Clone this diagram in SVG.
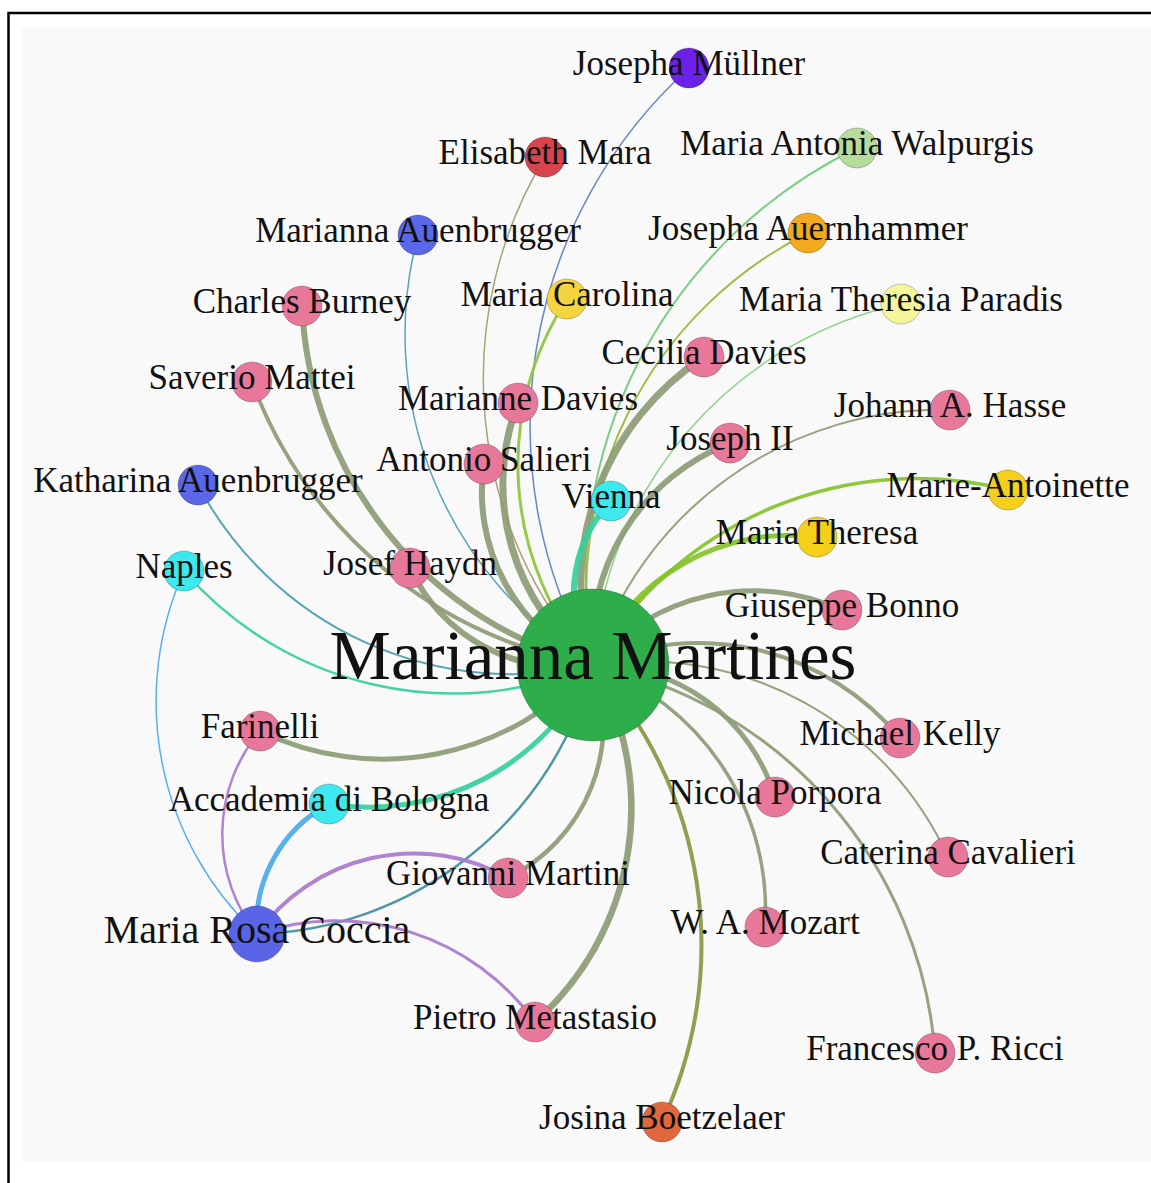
<svg xmlns="http://www.w3.org/2000/svg" width="1151" height="1183" viewBox="0 0 1151 1183">
  <style>
    .lbl { font-family: "Liberation Serif", "Times New Roman", serif; font-size: 35px; fill: #111; text-anchor: middle; }
    .lbl-mid { font-size: 40px; }
    .lbl-big { font-size: 69px; }
    .node { stroke: #000; stroke-opacity: 0.22; stroke-width: 1; }
    .edge { fill: none; stroke-opacity: 0.92; }
    .n-center { fill: #2eae4b; }
    .n-pink { fill: #e8789a; }
    .n-mullner { fill: #6b21e8; }
    .n-mara { fill: #d9434e; }
    .n-walpurgis { fill: #b7db9b; }
    .n-auen { fill: #5a67e6; }
    .n-auernhammer { fill: #f2a91e; }
    .n-carolina { fill: #f4d53f; }
    .n-paradis { fill: #f5f59c; }
    .n-cyan { fill: #3ee8ef; }
    .n-royal { fill: #f6cf1c; }
    .n-coccia { fill: #5a64e6; }
    .n-boetzelaer { fill: #e0683c; }
    .c-pink { stroke: #8d9b75; }
    .c-mullner { stroke: #5b7cc4; }
    .c-mara { stroke: #a39a6c; }
    .c-walpurgis { stroke: #72c97a; }
    .c-auen { stroke: #4a9cb0; }
    .c-auernhammer { stroke: #9cb53a; }
    .c-carolina { stroke: #8fc43c; }
    .c-paradis { stroke: #84d07e; }
    .c-cyan { stroke: #35cf9e; }
    .c-royal { stroke: #86c22a; }
    .c-coccia { stroke: #3f8ea0; }
    .c-boetzelaer { stroke: #8a9644; }
    .c-purple { stroke: #a878cc; }
    .c-blue { stroke: #4ca8ee; }
  </style>

  <!-- frame and canvas -->
  <rect x="8.5" y="13" width="1200" height="1200" fill="#ffffff" stroke="#000" stroke-width="2.5"/>
  <rect x="22" y="28" width="1140" height="1135" fill="#f9f9f9"/>

  <!-- links: circular arcs drawn from source to target -->
  <g id="links">
    <path class="edge c-mullner" stroke-width="1.5" d="M593,665 A483.8,483.8 0 0,1 689,68"/>
    <path class="edge c-mara" stroke-width="1.5" d="M593,665 A428.7,428.7 0 0,1 545,157"/>
    <path class="edge c-walpurgis" stroke-width="2" d="M593,665 A481.8,481.8 0 0,1 857,148"/>
    <path class="edge c-auen" stroke-width="1.5" d="M593,665 A385.3,385.3 0 0,1 418,235"/>
    <path class="edge c-auernhammer" stroke-width="2" d="M593,665 A400.5,400.5 0 0,1 808,233"/>
    <path class="edge c-pink" stroke-width="6" d="M593,665 A388.2,388.2 0 0,1 302,306"/>
    <path class="edge c-carolina" stroke-width="3" d="M593,665 A304.5,304.5 0 0,1 567,299"/>
    <path class="edge c-paradis" stroke-width="1.5" d="M593,665 A393.8,393.8 0 0,1 901,304"/>
    <path class="edge c-pink" stroke-width="7" d="M593,665 A271.7,271.7 0 0,1 704,357"/>
    <path class="edge c-pink" stroke-width="4" d="M593,665 A443.1,443.1 0 0,1 252,382"/>
    <path class="edge c-pink" stroke-width="7" d="M593,665 A226.2,226.2 0 0,1 518,403"/>
    <path class="edge c-pink" stroke-width="2" d="M593,665 A364.1,364.1 0 0,1 950,410"/>
    <path class="edge c-pink" stroke-width="6" d="M593,665 A216.5,216.5 0 0,1 730,443"/>
    <path class="edge c-pink" stroke-width="6" d="M593,665 A189.8,189.8 0 0,1 484,464"/>
    <path class="edge c-auen" stroke-width="2" d="M593,665 A356,356 0 0,1 198,485"/>
    <path class="edge c-cyan" stroke-width="6" d="M593,665 A137,137 0 0,1 611,501"/>
    <path class="edge c-royal" stroke-width="3.5" d="M593,665 A373.8,373.8 0 0,1 1008,490"/>
    <path class="edge c-royal" stroke-width="5" d="M593,665 A214.1,214.1 0 0,1 817,537"/>
    <path class="edge c-cyan" stroke-width="2.5" d="M593,665 A356.7,356.7 0 0,1 184,571"/>
    <path class="edge c-pink" stroke-width="6" d="M593,665 A171.9,171.9 0 0,1 410,568"/>
    <path class="edge c-pink" stroke-width="5" d="M593,665 A211.7,211.7 0 0,1 842,610"/>
    <path class="edge c-pink" stroke-width="4" d="M593,665 A262,262 0 0,1 900,738"/>
    <path class="edge c-pink" stroke-width="5" d="M593,665 A281.8,281.8 0 0,1 260,731"/>
    <path class="edge c-pink" stroke-width="5" d="M593,665 A186.6,186.6 0 0,1 775,797"/>
    <path class="edge c-cyan" stroke-width="5" d="M593,665 A247.7,247.7 0 0,1 329,804"/>
    <path class="edge c-pink" stroke-width="2" d="M593,665 A335,335 0 0,1 948,857"/>
    <path class="edge c-pink" stroke-width="4.5" d="M593,665 A172,172 0 0,1 508,878"/>
    <path class="edge c-coccia" stroke-width="2.5" d="M593,665 A357.2,357.2 0 0,1 257,934"/>
    <path class="edge c-pink" stroke-width="3.5" d="M593,665 A260.1,260.1 0 0,1 765,927"/>
    <path class="edge c-pink" stroke-width="6.5" d="M593,665 A285.7,285.7 0 0,1 535,1022"/>
    <path class="edge c-pink" stroke-width="3" d="M593,665 A429.3,429.3 0 0,1 935,1053"/>
    <path class="edge c-boetzelaer" stroke-width="4" d="M593,665 A416,416 0 0,1 662,1122"/>
    <path class="edge c-blue" stroke-width="5" d="M257,934 A136.7,136.7 0 0,1 329,804"/>
    <path class="edge c-blue" stroke-width="1.5" d="M257,934 A318.5,318.5 0 0,1 184,571"/>
    <path class="edge c-purple" stroke-width="2.5" d="M257,934 A160.4,160.4 0 0,1 260,731"/>
    <path class="edge c-purple" stroke-width="4" d="M257,934 A192.9,192.9 0 0,1 508,878"/>
    <path class="edge c-purple" stroke-width="3" d="M257,934 A244.9,244.9 0 0,1 535,1022"/>
  </g>

  <!-- people and places -->
  <g id="node-josepha-mullner"><circle class="node n-mullner" cx="689" cy="68" r="20"/><text class="lbl" x="689" y="75">Josepha Müllner</text></g>
  <g id="node-elisabeth-mara"><circle class="node n-mara" cx="545" cy="157" r="20"/><text class="lbl" x="545" y="164">Elisabeth Mara</text></g>
  <g id="node-maria-antonia-walpurgis"><circle class="node n-walpurgis" cx="857" cy="148" r="20"/><text class="lbl" x="857" y="155">Maria Antonia Walpurgis</text></g>
  <g id="node-marianna-auenbrugger"><circle class="node n-auen" cx="418" cy="235" r="20"/><text class="lbl" x="418" y="242">Marianna Auenbrugger</text></g>
  <g id="node-josepha-auernhammer"><circle class="node n-auernhammer" cx="808" cy="233" r="20"/><text class="lbl" x="808" y="240">Josepha Auernhammer</text></g>
  <g id="node-charles-burney"><circle class="node n-pink" cx="302" cy="306" r="20"/><text class="lbl" x="302" y="313">Charles Burney</text></g>
  <g id="node-maria-carolina"><circle class="node n-carolina" cx="567" cy="299" r="20"/><text class="lbl" x="567" y="306">Maria Carolina</text></g>
  <g id="node-maria-theresia-paradis"><circle class="node n-paradis" cx="901" cy="304" r="20"/><text class="lbl" x="901" y="311">Maria Theresia Paradis</text></g>
  <g id="node-cecilia-davies"><circle class="node n-pink" cx="704" cy="357" r="20"/><text class="lbl" x="704" y="364">Cecilia Davies</text></g>
  <g id="node-saverio-mattei"><circle class="node n-pink" cx="252" cy="382" r="20"/><text class="lbl" x="252" y="389">Saverio Mattei</text></g>
  <g id="node-marianne-davies"><circle class="node n-pink" cx="518" cy="403" r="20"/><text class="lbl" x="518" y="410">Marianne Davies</text></g>
  <g id="node-johann-hasse"><circle class="node n-pink" cx="950" cy="410" r="20"/><text class="lbl" x="950" y="417">Johann A. Hasse</text></g>
  <g id="node-joseph-ii"><circle class="node n-pink" cx="730" cy="443" r="20"/><text class="lbl" x="730" y="450">Joseph II</text></g>
  <g id="node-antonio-salieri"><circle class="node n-pink" cx="484" cy="464" r="20"/><text class="lbl" x="484" y="471">Antonio Salieri</text></g>
  <g id="node-katharina-auenbrugger"><circle class="node n-auen" cx="198" cy="485" r="20"/><text class="lbl" x="198" y="492">Katharina Auenbrugger</text></g>
  <g id="node-vienna"><circle class="node n-cyan" cx="611" cy="501" r="20"/><text class="lbl" x="611" y="508">Vienna</text></g>
  <g id="node-marie-antoinette"><circle class="node n-royal" cx="1008" cy="490" r="20"/><text class="lbl" x="1008" y="497">Marie-Antoinette</text></g>
  <g id="node-maria-theresa"><circle class="node n-royal" cx="817" cy="537" r="20"/><text class="lbl" x="817" y="544">Maria Theresa</text></g>
  <g id="node-naples"><circle class="node n-cyan" cx="184" cy="571" r="20"/><text class="lbl" x="184" y="578">Naples</text></g>
  <g id="node-josef-haydn"><circle class="node n-pink" cx="410" cy="568" r="20"/><text class="lbl" x="410" y="575">Josef Haydn</text></g>
  <g id="node-giuseppe-bonno"><circle class="node n-pink" cx="842" cy="610" r="20"/><text class="lbl" x="842" y="617">Giuseppe Bonno</text></g>
  <g id="node-marianna-martines"><circle class="node n-center" cx="593" cy="665" r="76"/><text class="lbl lbl-big" x="593" y="679">Marianna Martines</text></g>
  <g id="node-michael-kelly"><circle class="node n-pink" cx="900" cy="738" r="20"/><text class="lbl" x="900" y="745">Michael Kelly</text></g>
  <g id="node-farinelli"><circle class="node n-pink" cx="260" cy="731" r="20"/><text class="lbl" x="260" y="738">Farinelli</text></g>
  <g id="node-nicola-porpora"><circle class="node n-pink" cx="775" cy="797" r="20"/><text class="lbl" x="775" y="804">Nicola Porpora</text></g>
  <g id="node-accademia-di-bologna"><circle class="node n-cyan" cx="329" cy="804" r="20"/><text class="lbl" x="329" y="811">Accademia di Bologna</text></g>
  <g id="node-caterina-cavalieri"><circle class="node n-pink" cx="948" cy="857" r="20"/><text class="lbl" x="948" y="864">Caterina Cavalieri</text></g>
  <g id="node-giovanni-martini"><circle class="node n-pink" cx="508" cy="878" r="20"/><text class="lbl" x="508" y="885">Giovanni Martini</text></g>
  <g id="node-maria-rosa-coccia"><circle class="node n-coccia" cx="257" cy="934" r="28"/><text class="lbl lbl-mid" x="257" y="943">Maria Rosa Coccia</text></g>
  <g id="node-wa-mozart"><circle class="node n-pink" cx="765" cy="927" r="20"/><text class="lbl" x="765" y="934">W. A. Mozart</text></g>
  <g id="node-pietro-metastasio"><circle class="node n-pink" cx="535" cy="1022" r="20"/><text class="lbl" x="535" y="1029">Pietro Metastasio</text></g>
  <g id="node-francesco-ricci"><circle class="node n-pink" cx="935" cy="1053" r="20"/><text class="lbl" x="935" y="1060">Francesco P. Ricci</text></g>
  <g id="node-josina-boetzelaer"><circle class="node n-boetzelaer" cx="662" cy="1122" r="20"/><text class="lbl" x="662" y="1129">Josina Boetzelaer</text></g>
</svg>
